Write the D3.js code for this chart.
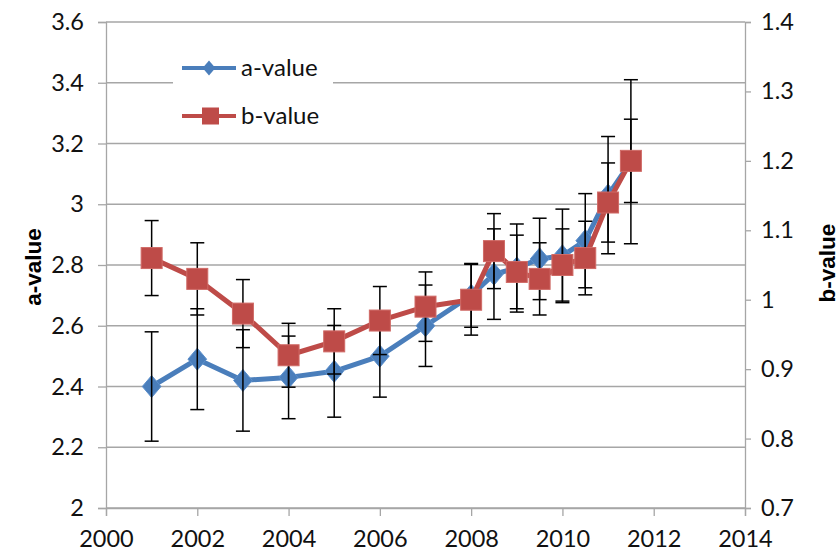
<!DOCTYPE html>
<html>
<head>
<meta charset="utf-8">
<script src="https://cdn.jsdelivr.net/npm/d3@7"></script>
<style>
  html, body { margin: 0; padding: 0; background: #fff; }
  svg { display: block; }
</style>
</head>
<body>
<svg id="chart" width="840" height="560"></svg>
<script>
const years = [2001, 2002, 2003, 2004, 2005, 2006, 2007, 2008, 2008.5, 2009, 2009.5, 2010, 2010.5, 2011, 2011.5];
const aValues = [2.40, 2.49, 2.42, 2.43, 2.45, 2.50, 2.60, 2.70, 2.77, 2.79, 2.82, 2.83, 2.88, 3.03, 3.14];
const aErrors = [0.18, 0.166, 0.167, 0.136, 0.151, 0.135, 0.134, 0.105, 0.149, 0.145, 0.134, 0.154, 0.155, 0.193, 0.27];
const bValues = [1.06, 1.03, 0.98, 0.92, 0.94, 0.97, 0.99, 1.00, 1.07, 1.04, 1.03, 1.05, 1.06, 1.14, 1.20];
const bErrors = [0.054, 0.052, 0.049, 0.046, 0.047, 0.049, 0.050, 0.051, 0.054, 0.053, 0.052, 0.052, 0.053, 0.057, 0.060];
const xTicks = [2000, 2002, 2004, 2006, 2008, 2010, 2012, 2014];
const aTicks = [2, 2.2, 2.4, 2.6, 2.8, 3, 3.2, 3.4, 3.6];
const bTicks = [0.7, 0.8, 0.9, 1, 1.1, 1.2, 1.3, 1.4];
const seriesNames = ["a-value", "b-value"];

const svg = d3.select("#chart");
const L = 106, R = 745, T = 22, B = 508;
const x = d3.scaleLinear().domain([2000, 2014]).range([L, R]);
const yA = d3.scaleLinear().domain([2, 3.6]).range([B, T]);
const yB = d3.scaleLinear().domain([0.7, 1.4]).range([B, T]);

const gridColor = "#a6a6a6";
const blue = "#4A7EBB";
const red = "#BE4B48";
const tickFont = "Lato, 'Open Sans', sans-serif";

// gridlines
svg.append("g").selectAll("line").data(aTicks).join("line")
  .attr("x1", L).attr("x2", R)
  .attr("y1", d => yA(d)).attr("y2", d => yA(d))
  .attr("stroke", gridColor).attr("stroke-width", 1.3);

// left axis
const gL = svg.append("g").attr("transform", `translate(${L},0)`)
  .call(d3.axisLeft(yA).tickValues(aTicks).tickSize(8).tickPadding(14).tickFormat(d3.format("~g")));
// right axis
const gR = svg.append("g").attr("transform", `translate(${R},0)`)
  .call(d3.axisRight(yB).tickValues(bTicks).tickSize(6).tickPadding(10).tickFormat(d3.format("~g")));
// bottom axis
const gB = svg.append("g").attr("transform", `translate(0,${B})`)
  .call(d3.axisBottom(x).tickValues(xTicks).tickSize(8).tickPadding(14).tickFormat(d3.format("d")));

[gL, gR, gB].forEach(g => {
  g.select(".domain").attr("stroke", gridColor).attr("stroke-width", 1.3);
  g.selectAll(".tick line").attr("stroke", gridColor).attr("stroke-width", 1.3);
  g.selectAll(".tick text").attr("fill", "#111").style("font-family", tickFont).style("font-size", "23.5px");
});

// axis titles
svg.append("text")
  .attr("transform", `translate(41,267) rotate(-90)`)
  .attr("text-anchor", "middle")
  .style("font-family", "'Liberation Sans', Arial, sans-serif")
  .style("font-weight", "bold").style("font-size", "22.5px")
  .attr("fill", "#000").text("a-value");
svg.append("text")
  .attr("transform", `translate(835,263) rotate(-90)`)
  .attr("text-anchor", "middle")
  .style("font-family", "'Liberation Sans', Arial, sans-serif")
  .style("font-weight", "bold").style("font-size", "22.5px")
  .attr("fill", "#000").text("b-value");

// legend background
svg.append("rect").attr("x", 173).attr("y", 46).attr("width", 160).attr("height", 90).attr("fill", "#fff");

const data = years.map((yr, i) => ({yr, a: aValues[i], ae: aErrors[i], b: bValues[i], be: bErrors[i]}));

function errorBars(g, yScale, key, errKey) {
  const cap = 7;
  const eg = g.append("g").attr("stroke", "#000").attr("stroke-width", 1.5).attr("fill", "none");
  data.forEach(d => {
    const cx = x(d.yr), y1 = yScale(d[key] + d[errKey]), y2 = yScale(d[key] - d[errKey]);
    eg.append("line").attr("x1", cx).attr("x2", cx).attr("y1", y1).attr("y2", y2);
    eg.append("line").attr("x1", cx - cap).attr("x2", cx + cap).attr("y1", y1).attr("y2", y1);
    eg.append("line").attr("x1", cx - cap).attr("x2", cx + cap).attr("y1", y2).attr("y2", y2);
  });
}

const diamond = (s) => `M0,${-s}L${s * 0.85},0L0,${s}L${-s * 0.85},0Z`;

// series a
const lineA = d3.line().x(d => x(d.yr)).y(d => yA(d.a));
svg.append("path").datum(data).attr("d", lineA)
  .attr("fill", "none").attr("stroke", blue).attr("stroke-width", 5).attr("stroke-linejoin", "round");
svg.append("g").selectAll("path").data(data).join("path")
  .attr("transform", d => `translate(${x(d.yr)},${yA(d.a)})`)
  .attr("d", diamond(11)).attr("fill", blue).attr("stroke", "#5b8fcc").attr("stroke-width", 1);
errorBars(svg, yA, "a", "ae");

// series b
errorBars(svg, yB, "b", "be");
const lineB = d3.line().x(d => x(d.yr)).y(d => yB(d.b));
svg.append("path").datum(data).attr("d", lineB)
  .attr("fill", "none").attr("stroke", red).attr("stroke-width", 5).attr("stroke-linejoin", "round");
svg.append("g").selectAll("rect").data(data).join("rect")
  .attr("x", d => x(d.yr) - 10.5).attr("y", d => yB(d.b) - 10.5)
  .attr("width", 21).attr("height", 21)
  .attr("fill", red).attr("stroke", "#d06a66").attr("stroke-width", 1);

// legend
const leg = svg.append("g");
const legY = [68, 116];
const legColors = [blue, red];
seriesNames.forEach((name, i) => {
  leg.append("line").attr("x1", 182).attr("x2", 236).attr("y1", legY[i]).attr("y2", legY[i])
    .attr("stroke", legColors[i]).attr("stroke-width", 4);
  if (i === 0) {
    leg.append("path").attr("transform", `translate(209,${legY[i]})`).attr("d", diamond(7.5)).attr("fill", blue);
  } else {
    leg.append("rect").attr("x", 202).attr("y", legY[i] - 8.5).attr("width", 17).attr("height", 17).attr("fill", red);
  }
  leg.append("text").attr("x", 241).attr("y", legY[i]).attr("dy", "0.35em")
    .style("font-family", tickFont).style("font-size", "24px").attr("fill", "#111").text(name);
});
</script>
</body>
</html>
